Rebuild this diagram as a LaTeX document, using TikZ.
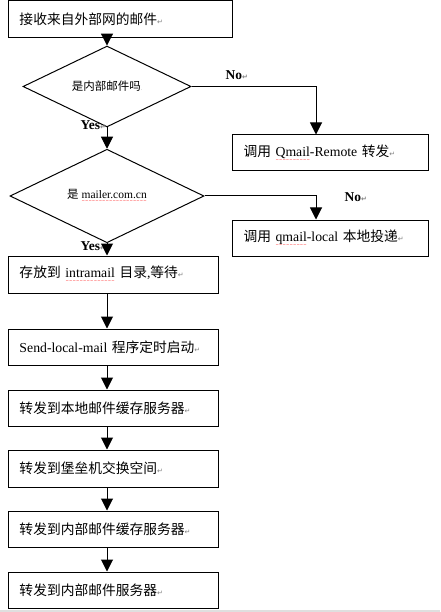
\documentclass[tikz,border=0pt]{standalone}
\usepackage{fontspec}
\setmainfont{Liberation Serif}
\newfontfamily\cjk{Noto Sans CJK SC}
\newfontfamily\symf{DejaVu Sans}
\usetikzlibrary{positioning,shapes.geometric,arrows.meta}

\newcommand{\zh}[1]{{\cjk #1}}
\newcommand{\pmark}{{\symf\fontsize{7}{7}\selectfont\color{gray}↵}}
\newsavebox{\spellbox}
\newcommand{\spell}[1]{\sbox{\spellbox}{#1}\rlap{\color{red}\raisebox{-4.8pt}{\hbox to \wd\spellbox{\xleaders\hbox{\symf\fontsize{4}{4}\selectfont ∼}\hfil}}}\usebox{\spellbox}}

\tikzset{
  box/.style={draw, rectangle, minimum height=36pt, inner xsep=11.5pt, align=left, font=\fontsize{13.75}{16}\selectfont},
  decide/.style={draw, diamond, inner sep=0pt, font=\fontsize{11.5}{14}\selectfont},
  arr/.style={-{Triangle[width=12pt,length=12pt]}},
  lbl/.style={anchor=west, inner sep=0pt, font=\fontsize{13.5}{16}\selectfont\bfseries}
}

\begin{document}
\begin{tikzpicture}[x=1pt, y=1pt, line width=1pt]
\useasboundingbox (0,0) rectangle (440,-612);
% main column
\node[box, text width=201pt, minimum height=37pt] (recv) at (120,-19.5) {\zh{接收来自外部网的邮件}\pmark};
\node[decide, minimum width=168pt, minimum height=47pt, below of=recv, node distance=67pt, xshift=-13pt] (isint) {\zh{是内部邮件吗}{\color{gray}\tiny.}};
\node[box, text width=173pt, right of=isint, node distance=223pt, yshift=-66.5pt] (remote) {\zh{调用} \spell{Qmail}-Remote \zh{转发}\pmark};
\node[decide, minimum width=194pt, minimum height=48pt, below of=isint, node distance=109.5pt] (ismailer) {\zh{是} \spell{mailer.com.cn}};
\node[box, text width=173pt, right of=ismailer, node distance=223pt, yshift=-42pt] (local) {\zh{调用} \spell{qmail}-local \zh{本地投递}\pmark};
\node[box, text width=187pt, minimum height=37pt, below of=ismailer, node distance=78.5pt, xshift=6pt] (store) {\zh{存放到} \spell{intramail} \zh{目录},\zh{等待}\pmark};
\node[box, text width=187pt, below of=store, node distance=72.5pt] (start) {Send-local-mail \zh{程序定时启动}\pmark};
\node[box, text width=187pt, below of=start, node distance=61pt] (tocache) {\zh{转发到本地邮件缓存服务器}\pmark};
\node[box, text width=187pt, minimum height=37pt, below of=tocache, node distance=60.5pt] (tobastion) {\zh{转发到堡垒机交换空间}\pmark};
\node[box, text width=187pt, below of=tobastion, node distance=60.5pt] (tointcache) {\zh{转发到内部邮件缓存服务器}\pmark};
\node[box, text width=187pt, below of=tointcache, node distance=61pt] (tointserver) {\zh{转发到内部邮件服务器}\pmark};

% branch labels
\node[lbl] (no1) at (225,-75) {No\pmark};
\node[lbl] (yes1) at (80,-125) {Yes\pmark};
\node[lbl] (no2) at (344,-197) {No\pmark};
\node[lbl] (yes2) at (80,-246) {Yes\pmark};

% connectors
\draw[arr] (recv.south -| isint) -- (isint.north);
\draw[arr] (isint.east) -| ([xshift=-14pt]remote.north);
\draw[arr] (isint.south) -- (ismailer.north);
\draw[arr] (ismailer.east) -| ([xshift=-14pt]local.north);
\draw[arr] (ismailer.south) -- (store.north -| ismailer);
\foreach \a/\b in {store/start, start/tocache, tocache/tobastion, tobastion/tointcache, tointcache/tointserver}
  \draw[arr] (\a.south -| ismailer) -- (\b.north -| ismailer);

\fill[gray!25] (0,-609.5) rectangle (440,-612);
\end{tikzpicture}
\end{document}
